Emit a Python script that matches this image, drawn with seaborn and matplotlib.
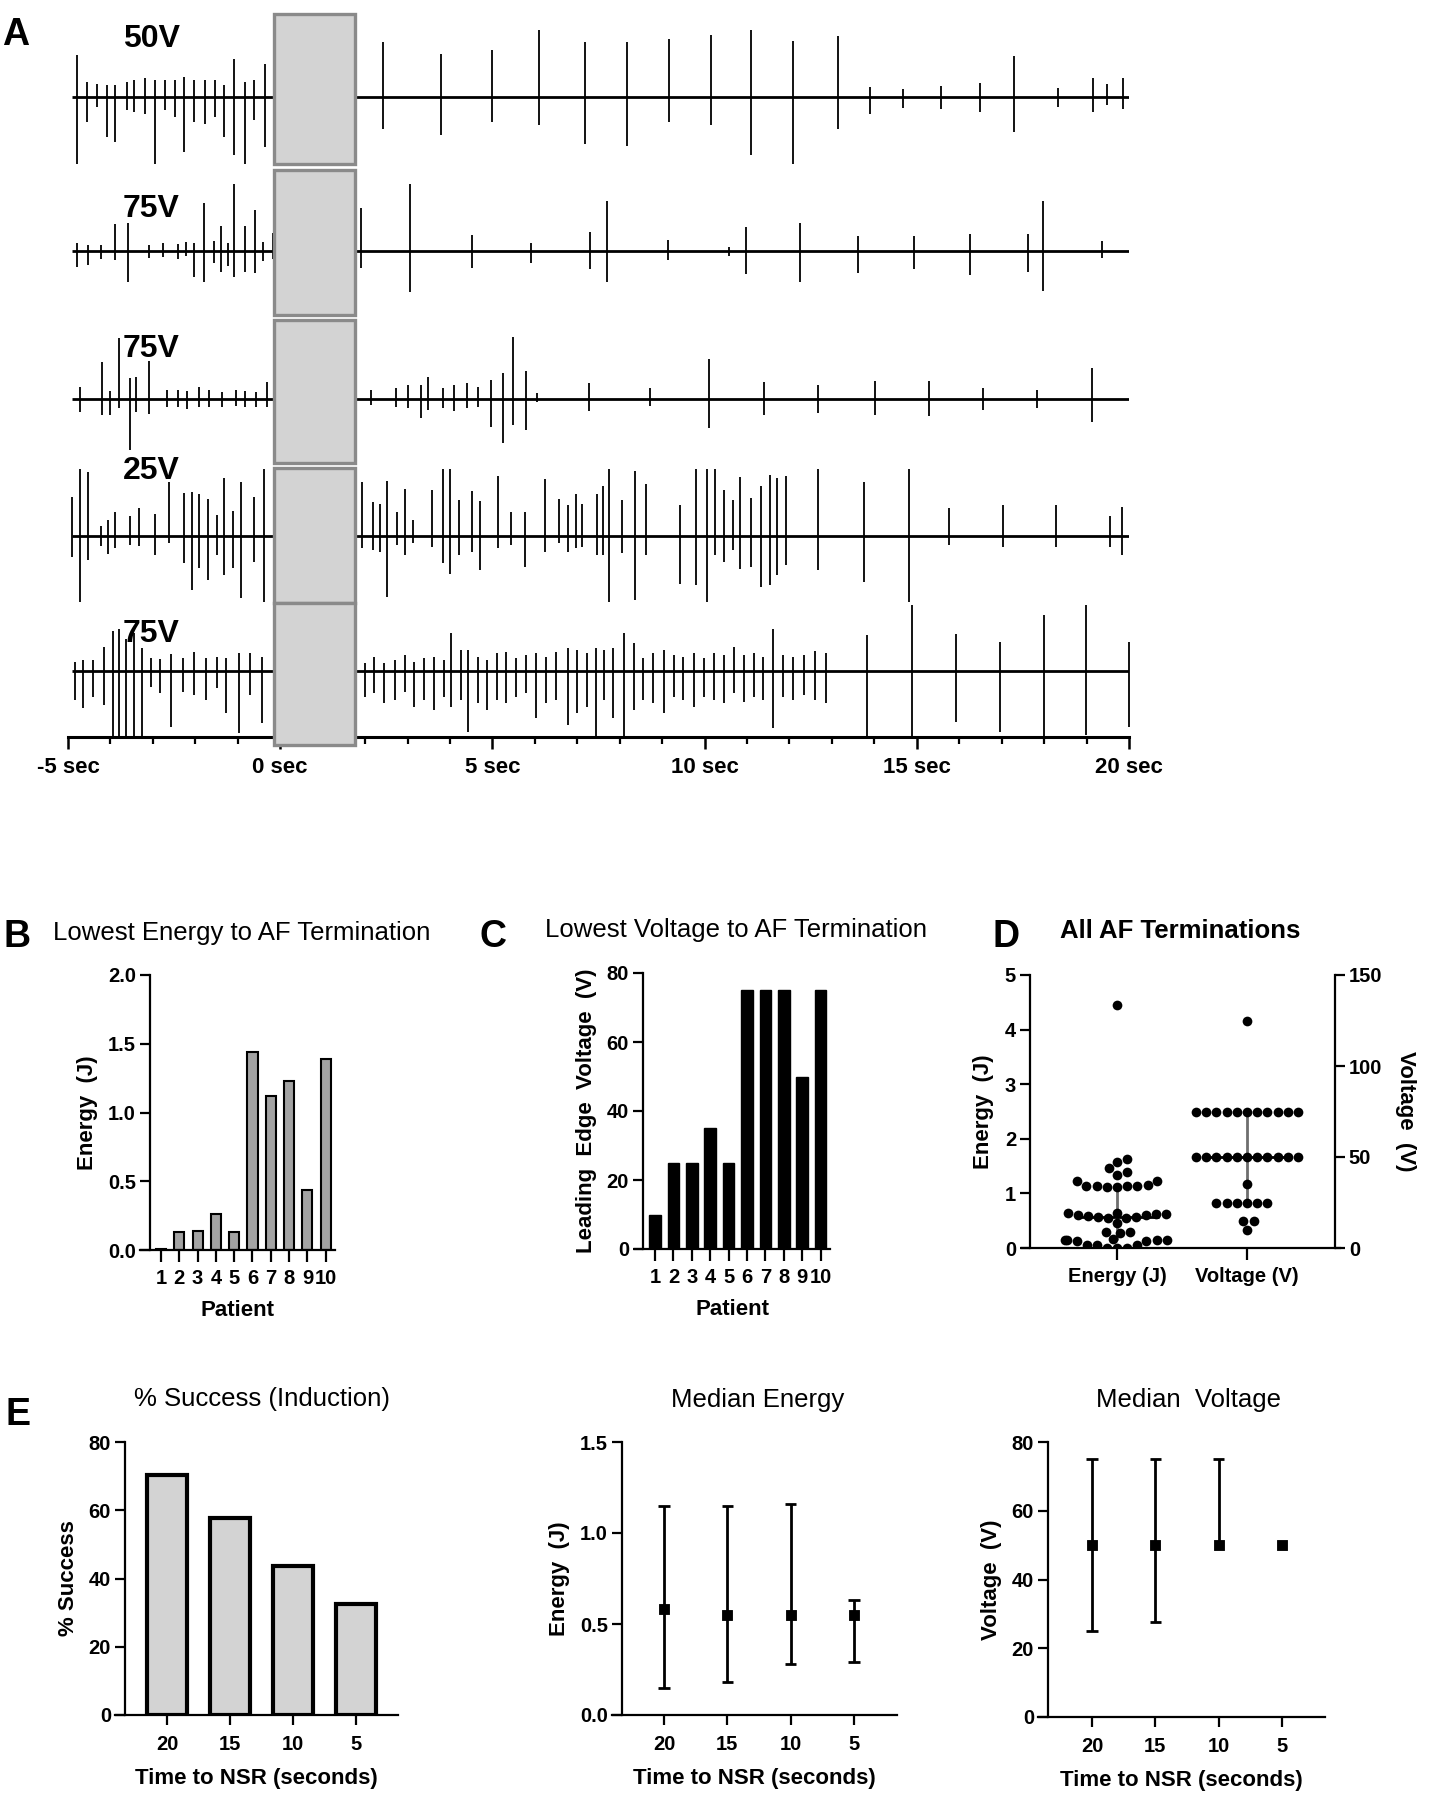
import numpy as np
import matplotlib
matplotlib.use("Agg")
import matplotlib.pyplot as plt
from matplotlib.patches import Rectangle
import seaborn as sns

# ------------------------------ DATA ------------------------------ #
# panel A: spike times (s), upward / downward deflection (px) per trace
trace1_t = [-4.79, -4.55, -4.32, -4.09, -3.89, -3.62, -3.45, -3.19, -2.96, -2.72, -2.49, -2.26, -2.02, -1.78,
            -1.53, -1.32, -1.10, -0.84, -0.61, -0.35,
            2.42, 3.80, 5.00, 6.10, 7.18, 8.17, 9.15, 10.14, 11.10, 12.09, 13.15, 13.89, 14.67, 15.57, 16.50,
            17.30, 18.33, 19.16, 19.49, 19.86]
trace1_up = [42, 15, 13, 12, 12, 15, 17, 19, 17, 17, 17, 20, 17, 17, 17, 12, 38, 15, 17, 33,
             55, 43, 47, 67, 55, 55, 58, 62, 67, 56, 61, 10, 8, 11, 14, 41, 9, 19, 13, 19]
trace1_dn = [67, 25, 10, 40, 45, 13, 15, 17, 67, 13, 20, 55, 25, 27, 20, 40, 58, 67, 23, 50,
             32, 38, 25, 28, 47, 49, 25, 28, 58, 67, 32, 17, 11, 12, 15, 35, 10, 15, 8, 12]

trace2_t = [-4.79, -4.53, -4.23, -3.89, -3.59, -3.10, -2.75, -2.40, -2.23, -2.02, -1.79, -1.57, -1.39, -1.22,
            -1.08, -0.84, -0.59, -0.40, -0.17,
            1.90, 3.07, 4.53, 5.92, 7.30, 7.70, 9.13, 10.57, 10.98, 12.25, 13.61, 14.93, 16.25, 17.63, 17.98, 19.37]
trace2_up = [8, 6, 6, 27, 28, 6, 8, 7, 9, 8, 48, 10, 25, 8, 67, 25, 41, 9, 18,
             43, 67, 16, 8, 19, 50, 11, 4, 24, 28, 15, 15, 17, 17, 50, 10]
trace2_dn = [16, 14, 8, 9, 31, 7, 6, 8, 5, 26, 31, 12, 21, 15, 26, 21, 22, 10, 8,
             17, 41, 17, 12, 18, 31, 9, 5, 23, 31, 22, 18, 24, 21, 40, 7]

trace3_t = [-4.72, -4.20, -4.02, -3.80, -3.54, -3.40, -3.10, -2.67, -2.40, -2.20, -1.92, -1.67, -1.36, -1.05,
            -0.84, -0.57, -0.31,
            2.13, 2.74, 3.00, 3.31, 3.48, 3.83, 4.09, 4.39, 4.65, 4.97, 5.26, 5.49, 5.78, 6.05, 7.28, 8.71,
            10.10, 11.39, 12.68, 14.01, 15.28, 16.55, 17.84, 19.13]
trace3_up = [12, 37, 8, 61, 21, 22, 38, 9, 9, 8, 12, 9, 7, 9, 8, 7, 17,
             9, 11, 14, 14, 22, 11, 14, 16, 12, 19, 26, 62, 28, 6, 16, 11, 40, 17, 14, 18, 18, 11, 9, 31]
trace3_dn = [13, 16, 16, 9, 51, 13, 15, 8, 8, 10, 8, 8, 8, 7, 8, 8, 8,
             6, 8, 9, 19, 11, 9, 12, 9, 8, 28, 44, 26, 31, 3, 12, 7, 29, 16, 14, 16, 17, 11, 9, 23]

trace4_t = [-4.91, -4.72, -4.53, -4.23, -4.06, -3.89, -3.54, -3.33, -2.96, -2.61, -2.26, -2.09, -1.92, -1.71,
            -1.50, -1.32, -1.11, -0.92, -0.61, -0.38,
            1.92, 2.18, 2.35, 2.51, 2.75, 2.93, 3.12, 3.57, 3.83, 4.01, 4.22, 4.51, 4.70, 5.14, 5.44, 5.77,
            6.24, 6.57, 6.79, 6.97, 7.11, 7.46, 7.61, 7.74, 8.05, 8.36, 8.62, 9.41, 9.79, 10.05, 10.24, 10.45,
            10.66, 10.84, 11.10, 11.32, 11.53, 11.71, 11.92, 12.67, 13.75, 14.81, 15.75, 17.04, 18.29, 19.55, 19.84]
trace4_up = [39, 67, 64, 10, 16, 24, 20, 28, 22, 54, 43, 44, 42, 37, 21, 58, 25, 54, 39, 67,
             54, 34, 32, 55, 24, 47, 16, 46, 67, 67, 36, 45, 35, 60, 24, 24, 57, 37, 31, 42,
             32, 42, 50, 67, 36, 65, 52, 31, 67, 67, 67, 46, 36, 59, 38, 50, 61, 58, 60, 67,
             54, 67, 28, 31, 31, 20, 29]
trace4_dn = [21, 66, 24, 10, 18, 12, 9, 10, 19, 7, 27, 54, 32, 44, 19, 39, 32, 62, 26, 66,
             12, 14, 16, 61, 9, 19, 7, 11, 27, 38, 19, 16, 34, 12, 9, 31, 16, 7, 16, 12,
             11, 19, 19, 66, 17, 64, 19, 48, 49, 66, 19, 26, 14, 33, 31, 51, 49, 39, 29, 34,
             46, 66, 9, 11, 11, 11, 19]

trace5_t = [-4.84, -4.65, -4.40, -4.15, -3.94, -3.79, -3.63, -3.44, -3.26, -3.05, -2.84, -2.57, -2.30, -2.02,
            -1.76, -1.49, -1.28, -0.96, -0.71, -0.43,
            1.99, 2.22, 2.45, 2.70, 2.93, 3.16, 3.40, 3.63, 3.87, 4.02, 4.26, 4.43, 4.66, 4.88, 5.11, 5.32,
            5.55, 5.80, 6.03, 6.26, 6.51, 6.77, 7.00, 7.23, 7.45, 7.62, 7.84, 8.09, 8.33, 8.56, 8.79, 9.04,
            9.27, 9.50, 9.75, 9.98, 10.23, 10.46, 10.69, 10.92, 11.17, 11.38, 11.60, 11.84, 12.09, 12.34,
            12.59, 12.85, 13.83, 14.89, 15.92, 16.97, 18.00, 18.99, 20.0]
trace5_up = [9, 11, 11, 24, 40, 42, 32, 38, 23, 13, 12, 17, 13, 19, 13, 14, 13, 18, 18, 14,
             8, 14, 8, 11, 16, 9, 13, 14, 11, 38, 21, 21, 14, 11, 18, 19, 13, 16, 18, 14,
             19, 23, 21, 18, 23, 21, 23, 38, 28, 13, 18, 21, 16, 14, 18, 13, 18, 16, 24, 16,
             18, 14, 42, 16, 14, 16, 20, 18, 36, 66, 37, 29, 56, 66, 29]
trace5_dn = [29, 37, 26, 34, 66, 66, 66, 66, 66, 16, 22, 56, 21, 24, 29, 17, 42, 62, 24, 52,
             26, 22, 32, 29, 21, 36, 29, 39, 26, 36, 29, 61, 32, 39, 29, 32, 26, 22, 47, 32,
             29, 54, 42, 36, 66, 29, 47, 66, 39, 29, 32, 42, 26, 29, 36, 26, 29, 32, 22, 31,
             26, 29, 57, 26, 29, 24, 29, 32, 66, 66, 51, 61, 66, 64, 56]

trace_labels = ['50V', '75V', '75V', '25V', '75V']

# panel B / C
patients = ['1', '2', '3', '4', '5', '6', '7', '8', '9', '10']
lowest_energy = [0.01, 0.13, 0.14, 0.26, 0.13, 1.44, 1.12, 1.23, 0.44, 1.39]
lowest_voltage = [10, 25, 25, 35, 25, 75, 75, 75, 50, 75]

# panel D
d_cats = ['Energy (J)', 'Voltage (V)']
all_energy = [4.45, 1.63, 1.58, 1.46, 1.40, 1.34, 1.23, 1.22, 1.15, 1.14, 1.14, 1.13, 1.13, 1.12, 1.12,
              0.64, 0.64, 0.62, 0.62, 0.61, 0.60, 0.58, 0.57, 0.56, 0.55, 0.55, 0.46, 0.29, 0.29, 0.28,
              0.16, 0.15, 0.15, 0.14, 0.14, 0.13, 0.12, 0.06, 0.05, 0.05, 0.0, 0.0, 0.0]
all_voltage = [125] + [75] * 11 + [50] * 11 + [35] + [25] * 6 + [15] * 2 + [10]
energy_q = [0.14, 0.57, 1.13]     # q1, median, q3
voltage_q = [25, 50, 75]

# panel E
nsr_times = ['20', '15', '10', '5']
success_pct = [70.4, 57.6, 43.6, 32.5]
med_energy = [0.58, 0.55, 0.55, 0.55]
energy_lo = [0.15, 0.18, 0.28, 0.29]
energy_hi = [1.15, 1.15, 1.16, 0.63]
med_voltage = [50, 50, 50, 50]
volt_lo = [25, 27.5, 50, 50]
volt_hi = [75, 75, 75, 50]

# ----------------------------- STYLE ------------------------------ #
sns.set_style("ticks")
plt.rcParams['font.family'] = ['Liberation Sans', 'DejaVu Sans']
plt.rcParams['font.weight'] = 'bold'
plt.rcParams['axes.labelweight'] = 'bold'
plt.rcParams['axes.edgecolor'] = 'black'
plt.rcParams['text.color'] = 'black'
plt.rcParams['axes.labelcolor'] = 'black'
plt.rcParams['xtick.color'] = 'black'
plt.rcParams['ytick.color'] = 'black'

W, H = 1432, 1800
fig = plt.figure(figsize=(W / 100, H / 100), dpi=100)


def box(x0, y0, x1, y1):
    # pixel rectangle -> figure fraction
    return [x0 / W, 1 - y1 / H, (x1 - x0) / W, (y1 - y0) / H]


def ftext(x, y, s, **kw):
    fig.text(x / W, 1 - y / H, s, **kw)


def style(ax, inward=10, xlen=8.6):
    sns.despine(ax=ax)
    for s in ['left', 'bottom']:
        ax.spines[s].set_linewidth(1.6)
    ax.spines['left'].set_position(('outward', -inward * 0.72))
    ax.tick_params(axis='y', width=1.6, length=7, labelsize=14.5, pad=3)
    ax.tick_params(axis='x', width=1.6, length=xlen, labelsize=14.5, pad=5)
    ax.grid(False)


# ---------------------------- PANEL A ----------------------------- #
axA = fig.add_axes(box(68, 0, 1129, 737))
axA.set_xlim(-5, 20)
axA.set_ylim(737, 0)
baselines = [97, 251, 399, 536, 671]
box_rows = [(14, 164), (170, 315), (320, 463), (468, 603), (603, 745)]
traces = [(trace1_t, trace1_up, trace1_dn), (trace2_t, trace2_up, trace2_dn),
          (trace3_t, trace3_up, trace3_dn), (trace4_t, trace4_up, trace4_dn),
          (trace5_t, trace5_up, trace5_dn)]
label_y = [47, 217, 357, 479, 642]
for (t, up, dn), base, (top, bot), ly, lab in zip(traces, baselines, box_rows, label_y, trace_labels):
    t = np.array(t)
    axA.hlines(base, -4.9, 20, color='black', lw=2.0, zorder=2)
    axA.vlines(t, base - np.array(up), base + np.array(dn), color='black', lw=1.3, zorder=2, clip_on=False)
    axA.add_patch(Rectangle((-0.14, top), 1.9, bot - top, facecolor='#d3d3d3', edgecolor='#8a8a8a',
                            lw=2.4, zorder=3, clip_on=False))
    ftext(123, ly, lab, fontsize=23, fontweight='bold', va='baseline')

sns.despine(ax=axA, left=True)
axA.set_yticks([])
axA.spines['bottom'].set_linewidth(2.2)
axA.set_xticks(range(-5, 21, 5))
axA.set_xticklabels([f'{v} sec' for v in range(-5, 21, 5)])
axA.set_xticks(range(-5, 21), minor=True)
axA.tick_params(axis='x', which='major', length=8.6, width=1.8, labelsize=16, pad=6)
axA.tick_params(axis='x', which='minor', length=5, width=1.6)
ftext(2, 45, 'A', fontsize=27, fontweight='bold', va='baseline')

# ---------------------------- PANEL B ----------------------------- #
axB = fig.add_axes(box(140, 975, 335, 1250))
sns.barplot(x=patients, y=lowest_energy, order=patients, color='#a3a3a3', edgecolor='black',
            linewidth=1.5, width=0.55, saturation=1, ax=axB)
axB.set_xlim(-1.15, 9.51)
axB.set_ylim(0, 2.0)
axB.set_yticks([0, 0.5, 1.0, 1.5, 2.0])
axB.set_yticklabels(['0.0', '0.5', '1.0', '1.5', '2.0'])
axB.set_ylabel('Energy  (J)', fontsize=16, labelpad=7)
axB.set_xlabel('Patient', fontsize=16, labelpad=9)
style(axB)
ftext(3, 947, 'B', fontsize=27, fontweight='bold', va='baseline')
ftext(53, 940, 'Lowest Energy to AF Termination', fontsize=18.5, fontweight='normal', va='baseline')

# ---------------------------- PANEL C ----------------------------- #
axC = fig.add_axes(box(635, 973, 830, 1249))
sns.barplot(x=patients, y=lowest_voltage, order=patients, color='black', edgecolor='black',
            linewidth=1, width=0.63, saturation=1, ax=axC)
axC.set_xlim(-1.09, 9.51)
axC.set_ylim(0, 80)
axC.set_yticks(range(0, 81, 20))
axC.set_ylabel('Leading  Edge  Voltage  (V)', fontsize=16, labelpad=7)
axC.set_xlabel('Patient', fontsize=16, labelpad=9)
style(axC, inward=8)
ftext(480, 947, 'C', fontsize=27, fontweight='bold', va='baseline')
ftext(545, 937, 'Lowest Voltage to AF Termination', fontsize=18.5, fontweight='normal', va='baseline')

# ---------------------------- PANEL D ----------------------------- #
axD = fig.add_axes(box(1022, 975, 1340, 1248))
axD2 = axD.twinx()
axD.vlines(0, energy_q[0], energy_q[2], color='#6e6e6e', lw=2, zorder=1)
axD.hlines(energy_q[1], -0.32, 0.32, color='black', lw=2, zorder=1)
axD2.vlines(1, voltage_q[0], voltage_q[2], color='#6e6e6e', lw=2, zorder=1)
axD2.hlines(voltage_q[1], 0.69, 1.33, color='black', lw=2, zorder=1)
sns.swarmplot(x=[d_cats[0]] * len(all_energy), y=all_energy, order=d_cats, color='black',
              size=7, ax=axD, zorder=3)
sns.swarmplot(x=[d_cats[1]] * len(all_voltage), y=all_voltage, order=d_cats, color='black',
              size=7, ax=axD2, zorder=3)
axD.set_xlim(-0.731, 1.715)
axD.set_ylim(0, 5)
axD2.set_ylim(0, 150)
axD.set_yticks(range(0, 6))
axD2.set_yticks([0, 50, 100, 150])
axD.set_xticks([0, 1])
axD.set_xticklabels(d_cats)
style(axD, inward=8)
axD.set_ylabel('Energy  (J)', fontsize=16, labelpad=8)
axD.set_xlabel('')
axD2.set_xlabel('')
for s in ['top', 'left', 'bottom']:
    axD2.spines[s].set_visible(False)
axD2.spines['right'].set_linewidth(1.6)
axD2.spines['right'].set_position(('outward', -5 * 0.72))
axD2.tick_params(axis='y', width=1.6, length=7, labelsize=14.5, pad=3)
axD2.set_ylabel('Voltage  (V)', fontsize=16, rotation=270, labelpad=24)
ftext(992, 947, 'D', fontsize=27, fontweight='bold', va='baseline')
ftext(1060, 938, 'All AF Terminations', fontsize=18.5, fontweight='bold', va='baseline')

# ---------------------------- PANEL E ----------------------------- #
pos = np.arange(len(nsr_times))

axE1 = fig.add_axes(box(115, 1442, 398, 1715))
sns.barplot(x=nsr_times, y=success_pct, order=nsr_times, color='#d3d3d3', edgecolor='black',
            linewidth=3, width=0.635, saturation=1, ax=axE1)
axE1.set_xlim(-0.825, 3.667)
axE1.set_ylim(0, 80)
axE1.set_yticks(range(0, 81, 20))
axE1.set_ylabel('% Success', fontsize=16, labelpad=7)
axE1.set_xlabel('Time to NSR (seconds)', fontsize=16, labelpad=10)
style(axE1, xlen=7.2)
axE1.tick_params(axis='x', pad=7)
ftext(5, 1425, 'E', fontsize=27, fontweight='bold', va='baseline')
ftext(262, 1406, '% Success (Induction)', fontsize=18.5, fontweight='normal', va='baseline', ha='center')


def median_panel(ax, med, lo, hi, ylim, yticks, ylabel, title, tx):
    med, lo, hi = np.array(med), np.array(lo), np.array(hi)
    ax.vlines(pos, lo, hi, color='black', lw=2, zorder=2)
    ax.hlines(lo[lo < med], pos[lo < med] - 0.09, pos[lo < med] + 0.09, color='black', lw=2)
    ax.hlines(hi[hi > med], pos[hi > med] - 0.09, pos[hi > med] + 0.09, color='black', lw=2)
    sns.scatterplot(x=pos, y=med, marker='s', s=60, color='black', edgecolor='black',
                    legend=False, ax=ax, zorder=3)
    ax.set_xticks(pos)
    ax.set_xticklabels(nsr_times)
    ax.set_ylim(*ylim)
    ax.set_yticks(yticks)
    ax.set_ylabel(ylabel, fontsize=16, labelpad=7)
    ax.set_xlabel('Time to NSR (seconds)', fontsize=16, labelpad=10)
    style(ax, xlen=7.2)
    ax.tick_params(axis='x', pad=7)
    ftext(tx, 1407, title, fontsize=18.5, fontweight='normal', va='baseline', ha='center')


axE2 = fig.add_axes(box(612, 1442, 897, 1715))
median_panel(axE2, med_energy, energy_lo, energy_hi, (0, 1.5), [0, 0.5, 1.0, 1.5],
             'Energy  (J)', 'Median Energy', 758)
axE2.set_yticklabels(['0.0', '0.5', '1.0', '1.5'])
axE2.set_xlim(-0.821, 3.681)

axE3 = fig.add_axes(box(1038, 1442, 1325, 1717))
median_panel(axE3, med_voltage, volt_lo, volt_hi, (0, 80), range(0, 81, 20),
             'Voltage  (V)', 'Median  Voltage', 1188)
axE3.set_xlim(-0.853, 3.681)

fig.savefig('out.png', dpi=100, facecolor='white')
